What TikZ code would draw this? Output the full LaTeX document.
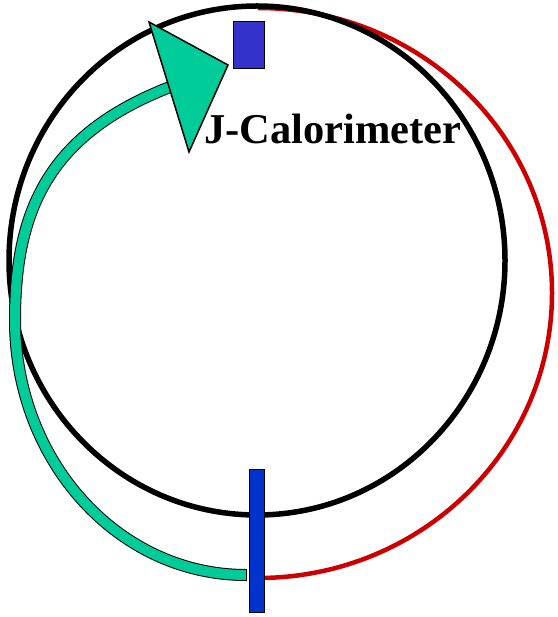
\documentclass[tikz,border=0pt]{standalone}
\usepackage{fontspec}
\setmainfont{Liberation Serif}
\definecolor{beamgreen}{RGB}{0,204,153}
\definecolor{ringred}{RGB}{204,0,0}
\definecolor{boxblue}{RGB}{51,51,204}
\definecolor{barblue}{RGB}{0,51,204}
\begin{document}
\begin{tikzpicture}[x=1pt,y=-1pt,
  ring/.style={draw=black, line width=5.5pt},
  redpath/.style={draw=ringred, line width=4.5pt},
  detector/.style={draw=black, line width=1.5pt, inner sep=0pt, outer sep=0pt},
  shaftout/.style={draw=black, line width=12pt},
  shaftin/.style={draw=beamgreen, line width=10pt},
  headstyle/.style={fill=beamgreen, draw=black, line width=1.5pt, line join=miter}]
\useasboundingbox (0,0) rectangle (557,617);
% red orbit (drawn first, under the ring)
\draw[redpath] (258,8) arc[start angle=-90, end angle=90, x radius=294, y radius=285];
% black ring
\draw[ring] (257,260.5) ellipse[x radius=248, y radius=254.5];
% green beam shaft
\coordinate (gstart) at (246,575);
\coordinate (gleft) at (15,320);
\coordinate (gend) at (170,87);
\draw[shaftout] (gstart) .. controls (118,575) and (15,461) .. (gleft) .. controls (15,210) and (49,134) .. (gend);
\draw[shaftin] (gstart) .. controls (118,575) and (15,461) .. (gleft) .. controls (15,210) and (49,134) .. (gend);
\draw[black, line width=1pt] ([yshift=-6pt]gstart) -- ([yshift=6pt]gstart);
% arrow head
\coordinate (h1) at (149,22);
\coordinate (htip) at (228,65);
\coordinate (h2) at (189,152);
\filldraw[headstyle] (h1) -- (htip) -- (h2) -- cycle;
% detectors
\node[detector, fill=boxblue, minimum width=31pt, minimum height=47pt] (jcal) at (249,45) {};
\node[detector, fill=barblue, minimum width=15pt, minimum height=143pt] (bar) at (257,541) {};
% label
\node[anchor=base west, inner sep=0pt, font=\bfseries\fontsize{42.5}{46}\selectfont] (label) at (204,144) {J-Calorimeter};
\end{tikzpicture}
\end{document}
